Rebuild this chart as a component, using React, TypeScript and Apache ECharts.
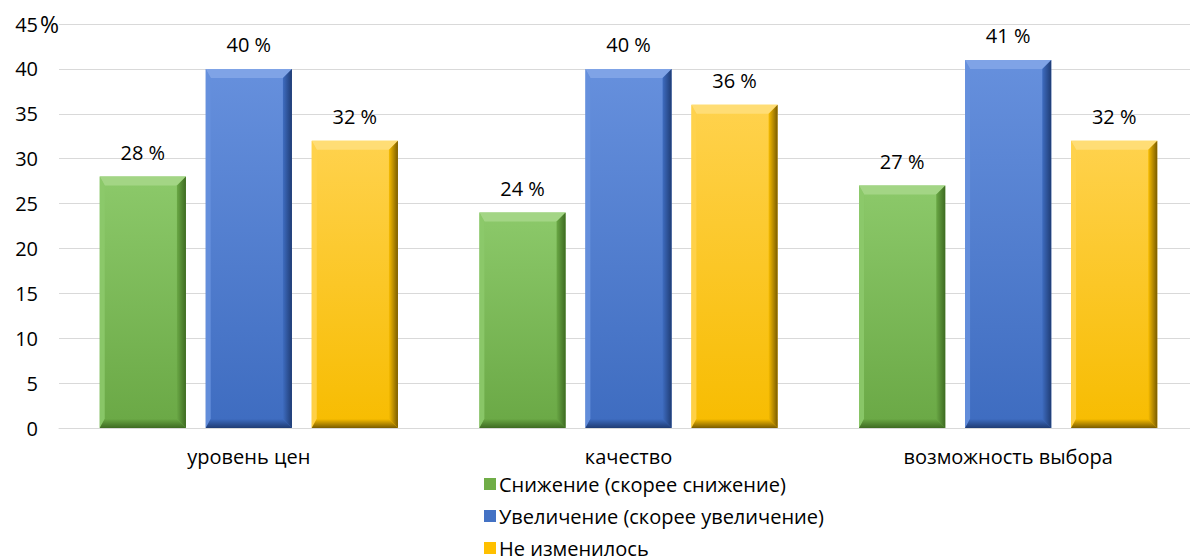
import React, { useEffect, useRef } from "react";
import * as echarts from "echarts";

const categories = ["уровень цен", "качество", "возможность выбора"];
const seriesNames = [
  "Снижение (скорее снижение)",
  "Увеличение (скорее увеличение)",
  "Не изменилось",
];
const decreaseValues = [28, 24, 27];
const increaseValues = [40, 40, 41];
const unchangedValues = [32, 36, 32];
const yTicks = [0, 5, 10, 15, 20, 25, 30, 35, 40, 45];

const palettes = [
  { base: "#70AD47", light: "#8CC96A", top: "#A3D585", dark: "#3E6B22", mid: "#6AA845" },
  { base: "#4472C4", light: "#6690DD", top: "#7FA3E6", dark: "#1F3C74", mid: "#3E6CC0" },
  { base: "#FFC000", light: "#FFD24D", top: "#FFDD75", dark: "#7A5C00", mid: "#F7BC00" },
];

const FONT = "'Open Sans', 'Noto Sans', sans-serif";
const FS = 20;
const LFS = 20;

export default function App() {
  const ref = useRef<HTMLDivElement>(null);
  useEffect(() => {
    if (!ref.current) return;
    const chart = echarts.init(ref.current, null, { renderer: "svg" });
    const allValues = [decreaseValues, increaseValues, unchangedValues];

    const makeSeries = (idx: number) => ({
      type: "custom",
      name: seriesNames[idx],
      itemStyle: { color: palettes[idx].base },
      data: allValues[idx].map((v, i) => [i, v]),
      encode: { x: 0, y: 1 },
      clip: false,
      renderItem: (params: any, api: any) => {
        const ci = api.value(0);
        const val = api.value(1);
        const top = api.coord([ci, val]);
        const bottom = api.coord([ci, 0]);
        const band = api.size([1, 0])[0];
        const bw = band * 0.227;
        const gap = bw * 0.23;
        const cx = top[0] + (idx - 1) * (bw + gap);
        const x0 = cx - bw / 2;
        const x1 = cx + bw / 2;
        const y0 = top[1];
        const y1 = bottom[1];
        const p = palettes[idx];
        const bv = 9;
        const bl = 5;
        return {
          type: "group",
          children: [
            {
              type: "rect",
              shape: { x: x0, y: y0, width: bw, height: y1 - y0 },
              style: {
                fill: new echarts.graphic.LinearGradient(0, 0, 0, 1, [
                  { offset: 0, color: p.light },
                  { offset: 1, color: p.mid },
                ]),
              },
            },
            {
              type: "polygon",
              shape: { points: [[x0, y0], [x1, y0], [x1 - bv, y0 + bv], [x0 + bl, y0 + bv]] },
              style: { fill: p.top },
            },
            {
              type: "polygon",
              shape: { points: [[x0, y0], [x0 + bl, y0 + bv], [x0 + bl, y1 - bv], [x0, y1]] },
              style: { fill: p.light, opacity: 0.9 },
            },
            {
              type: "polygon",
              shape: { points: [[x1, y0], [x1, y1], [x1 - bv, y1 - bv], [x1 - bv, y0 + bv]] },
              style: {
                fill: new echarts.graphic.LinearGradient(0, 0, 1, 0, [
                  { offset: 0, color: p.mid },
                  { offset: 1, color: p.dark },
                ]),
              },
            },
            {
              type: "polygon",
              shape: { points: [[x0, y1], [x1, y1], [x1 - bv, y1 - bv], [x0 + bl, y1 - bv]] },
              style: {
                fill: new echarts.graphic.LinearGradient(0, 0, 0, 1, [
                  { offset: 0, color: p.mid },
                  { offset: 1, color: p.dark },
                ]),
              },
            },
            {
              type: "text",
              x: cx,
              y: y0 - 14,
              style: {
                text: `${val} %`,
                fill: "#000",
                font: `${FS}px ${FONT}`,
                align: "center",
                verticalAlign: "bottom",
              },
            },
          ],
        };
      },
    });

    const legends = seriesNames.map((name, i) => ({
      orient: "vertical",
      left: 471,
      top: 461 + i * 32,
      itemWidth: 12,
      itemHeight: 12,
      itemGap: 0,
      icon: "rect",
      textStyle: {
        color: "#000",
        fontSize: LFS,
        fontFamily: FONT,
        lineHeight: 20,
        padding: [0, 0, 0, -2],
      },
      data: [name],
    }));

    chart.setOption({
      animation: false,
      grid: { left: 51, right: -11, top: 16, bottom: 132 },
      xAxis: {
        type: "category",
        data: categories,
        axisLine: { show: true, lineStyle: { color: "#D9D9D9", width: 1 } },
        axisTick: { show: false },
        axisLabel: { color: "#000", fontSize: FS, fontFamily: FONT, lineHeight: 20, margin: 18 },
      },
      yAxis: {
        type: "value",
        min: yTicks[0],
        max: yTicks[yTicks.length - 1],
        interval: 5,
        axisLine: { show: false },
        axisTick: { show: false },
        splitLine: { lineStyle: { color: "#D9D9D9", width: 1 } },
        axisLabel: { color: "#000", fontSize: FS, fontFamily: FONT, margin: 21 },
      },
      legend: legends,
      graphic: [
        {
          type: "text",
          left: 32,
          top: 4,
          style: { text: "%", fill: "#000", font: `23px ${FONT}` },
        },
      ],
      series: [makeSeries(0), makeSeries(1), makeSeries(2)],
    });
    return () => chart.dispose();
  }, []);
  return <div ref={ref} style={{ width: 1190, height: 552 }} />;
}
